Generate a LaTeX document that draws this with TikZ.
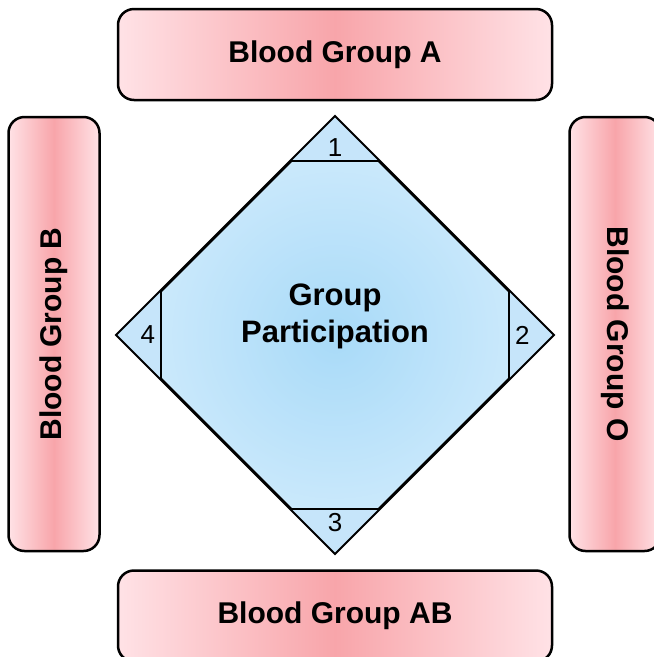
\documentclass[tikz,border=0pt]{standalone}
\usepackage{fontspec}
\setmainfont{Liberation Sans}
\usetikzlibrary{shapes.geometric}
\usetikzlibrary{calc}
\definecolor{lpink}  {RGB}{255,226,230}
\definecolor{bred}   {RGB}{248,165,170}
\definecolor{dblue}  {RGB}{168,218,248}
\definecolor{lblue}  {RGB}{210,236,252}
\definecolor{tblue}  {RGB}{198,229,250}
\tikzset{
    group/.style={draw=black, line width=2.5pt, rounded corners=16pt,
        left color=lpink, right color=lpink, middle color=bred,
        minimum width=434pt, minimum height=91pt,
        font=\bfseries\fontsize{30}{34}\selectfont},
    participation/.style={diamond, aspect=1, draw=black, line width=2pt,
        inner color=dblue, outer color=lblue,
        minimum width=436pt, minimum height=436pt, inner sep=0pt},
    tip/.style={fill=tblue},
    cut/.style={draw=black, line width=2.5pt},
    num/.style={font=\fontsize{26}{28}\selectfont}
  }
\begin{document}
\begin{tikzpicture}[x=1pt, y=-1pt]
 \useasboundingbox (0,0) rectangle (654,657);
 % blood groups
     \node[group] (grpA) at (335,54.5) {Blood Group A};
     \node[group, rotate=90] (grpB) at (54,334) {Blood Group B};
     \node[group, rotate=-90] (grpO) at (615,334) {Blood Group O};
     \node[group] (grpAB) at (335,616) {Blood Group AB};
 % diamond
     \node[participation] (gp) at (335,335) {};
 % tips with numbers
     \foreach \a/\l/\r/\n in {north/west/east/1, east/north/south/2,
                               south/east/west/3, west/south/north/4}{
         \coordinate (p\n) at ($(gp.\a)!0.206!(gp.\l)$);
         \coordinate (q\n) at ($(gp.\a)!0.206!(gp.\r)$);
         \fill[tip] (gp.\a) -- (p\n) -- (q\n) -- cycle;
         \draw[cut] (p\n) -- (q\n);
         \node[num] (n\n) at ($(gp.\a)!0.145!(gp.center)$) {\n};
     }
     \draw[black, line width=2pt, line join=miter] (gp.north) -- (gp.east) -- (gp.south) -- (gp.west) -- cycle;
 % label
     \node[font=\bfseries\fontsize{31}{37}\selectfont, align=center] (gptext) at (335,316) {Group\\Participation};
\end{tikzpicture}
\end{document}
